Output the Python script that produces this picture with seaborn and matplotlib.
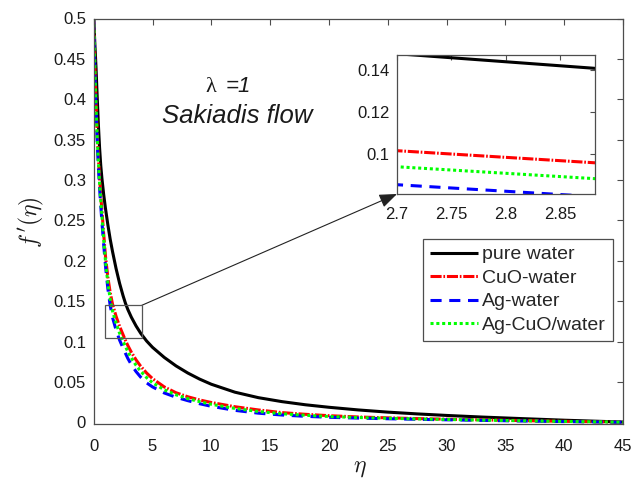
import matplotlib
matplotlib.use("Agg")
import matplotlib.pyplot as plt
from matplotlib.patches import Rectangle
import pandas as pd
import seaborn as sns

# similarity variable
eta = [0, 0.1, 0.2, 0.3, 0.4, 0.5, 0.6, 0.7, 0.85, 1.0, 1.2, 1.4, 1.6, 1.9,
       2.2, 2.5, 2.7, 2.9, 3.2, 3.6, 4.0, 4.5, 5, 6, 7, 8, 9, 10, 12, 14, 16,
       18, 20, 22.5, 25, 27.5, 30, 33, 36, 40, 45]

# velocity profiles f'(eta)
pure_water = [0.500, 0.468, 0.438, 0.402, 0.368, 0.340, 0.318, 0.302, 0.282,
              0.265, 0.245, 0.227, 0.2116, 0.1906, 0.1723, 0.1567, 0.1475,
              0.1399, 0.1303, 0.1195, 0.1103, 0.1008, 0.0930, 0.0805, 0.0700,
              0.0612, 0.0537, 0.0473, 0.0375, 0.0307, 0.0258, 0.0219, 0.0188,
              0.0155, 0.0128, 0.0106, 0.0087, 0.0067, 0.0050, 0.0028, 0.0005]
cuo_water = [0.500, 0.440, 0.395, 0.357, 0.327, 0.302, 0.281, 0.262, 0.233,
             0.206, 0.180, 0.161, 0.1465, 0.1315, 0.1190, 0.1085, 0.1016,
             0.0953, 0.0870, 0.0775, 0.0695, 0.0612, 0.0543, 0.0440, 0.0368,
             0.0318, 0.0279, 0.0247, 0.0195, 0.0155, 0.0122, 0.0101, 0.0084,
             0.0068, 0.0057, 0.0048, 0.0040, 0.0032, 0.0024, 0.0014, 0.0004]
ag_water = [0.500, 0.432, 0.385, 0.347, 0.316, 0.290, 0.268, 0.248, 0.220,
            0.194, 0.166, 0.145, 0.130, 0.1145, 0.1020, 0.0918, 0.0855,
            0.0793, 0.0715, 0.0630, 0.0560, 0.0490, 0.0440, 0.0365, 0.0312,
            0.0270, 0.0232, 0.0200, 0.0150, 0.0115, 0.0092, 0.0076, 0.0064,
            0.0054, 0.0046, 0.0039, 0.0033, 0.0026, 0.0019, 0.0011, 0.0003]
ag_cuo_water = [0.500, 0.436, 0.390, 0.352, 0.322, 0.296, 0.275, 0.255, 0.227,
                0.200, 0.173, 0.153, 0.138, 0.123, 0.1105, 0.1003, 0.0940,
                0.0878, 0.0798, 0.0708, 0.0633, 0.0555, 0.0492, 0.0404, 0.0342,
                0.0295, 0.0258, 0.0225, 0.0174, 0.0136, 0.0108, 0.0089, 0.0074,
                0.0061, 0.0052, 0.0044, 0.0037, 0.0029, 0.0022, 0.0013, 0.0004]

fluids = ["pure water", "CuO-water", "Ag-water", "Ag-CuO/water"]

x_ticks = [0, 5, 10, 15, 20, 25, 30, 35, 40, 45]
x_tick_labels = ["0", "5", "10", "15", "20", "25", "30", "35", "40", "45"]
y_ticks = [0, 0.05, 0.1, 0.15, 0.2, 0.25, 0.3, 0.35, 0.4, 0.45, 0.5]
y_tick_labels = ["0", "0.05", "0.1", "0.15", "0.2", "0.25", "0.3", "0.35",
                 "0.4", "0.45", "0.5"]
zoom_x_ticks = [2.7, 2.75, 2.8, 2.85]
zoom_x_tick_labels = ["2.7", "2.75", "2.8", "2.85"]
zoom_y_ticks = [0.1, 0.12, 0.14]
zoom_y_tick_labels = ["0.1", "0.12", "0.14"]

df = pd.concat([
    pd.DataFrame({"eta": eta, "fp": vals, "fluid": name})
    for name, vals in zip(fluids, [pure_water, cuo_water, ag_water, ag_cuo_water])
], ignore_index=True)

sns.set_style("white")
plt.rcParams["font.family"] = ["Liberation Sans", "DejaVu Sans"]
plt.rcParams["mathtext.fontset"] = "cm"
plt.rcParams["lines.scale_dashes"] = False

palette = {"pure water": "#000000", "CuO-water": "#ff0000",
           "Ag-water": "#0000ff", "Ag-CuO/water": "#00ff00"}
dashes = {"pure water": "", "CuO-water": (8, 1.3, 1.2, 1.3),
          "Ag-water": (8, 5.5), "Ag-CuO/water": (2.2, 2.0)}

EDGE = "#4d4d4d"
W, H = 633, 482
fig = plt.figure(figsize=(W / 100, H / 100), dpi=100)
fig.patch.set_facecolor("white")


def px_box(left, top, right, bottom):
    return [left / W, 1 - bottom / H, (right - left) / W, (bottom - top) / H]


ax = fig.add_axes(px_box(93.7, 18.5, 623, 424))


def draw_curves(target):
    sns.lineplot(data=df, x="eta", y="fp", hue="fluid", style="fluid",
                 hue_order=fluids, style_order=fluids, palette=palette,
                 dashes=dashes, estimator=None, sort=False, linewidth=2.2,
                 legend=False, ax=target)
    for line in target.get_lines():
        line.set_dash_capstyle("butt")
        line.set_solid_capstyle("butt")


draw_curves(ax)
ax.set_xlim(0, 45)
ax.set_ylim(-0.0019, 0.5)
ax.set_xticks(x_ticks, x_tick_labels)
ax.set_yticks(y_ticks, y_tick_labels)
ax.set_xlabel("")
ax.set_ylabel("")
ax.tick_params(direction="in", top=True, right=True, length=4, width=0.8,
               color=EDGE, labelsize=12, labelcolor="#1a1a1a")
ax.tick_params(axis="x", pad=10.5)
ax.tick_params(axis="y", pad=5.5)
for sp in ax.spines.values():
    sp.set_color(EDGE)
    sp.set_linewidth(0.9)

leg = ax.legend(handles=ax.get_lines()[:4], labels=fluids, loc="upper left",
                bbox_to_anchor=(423 / W, 1 - 239 / H),
                bbox_transform=fig.transFigure, fontsize=14, frameon=True,
                fancybox=False, framealpha=1, edgecolor=EDGE,
                handlelength=2.5, handletextpad=0.2, labelspacing=0.3,
                borderpad=0.35, borderaxespad=0)
leg.get_frame().set_linewidth(0.9)

# zoom window on the main axes
ax.add_patch(Rectangle((0.96, 0.104), 4.09 - 0.96, 0.145 - 0.104, fill=False,
                       ec="#555555", lw=0.9, zorder=5))

axin = fig.add_axes(px_box(397, 55, 595, 194))
draw_curves(axin)
axin.set_xlim(2.7, 2.882)
axin.set_ylim(0.0811, 0.1469)
axin.set_xticks(zoom_x_ticks, zoom_x_tick_labels)
axin.set_yticks(zoom_y_ticks, zoom_y_tick_labels)
axin.set_xlabel("")
axin.set_ylabel("")
axin.tick_params(direction="in", top=True, right=True, length=3.5, width=0.8,
                 color=EDGE, labelsize=12, labelcolor="#1a1a1a")
axin.tick_params(axis="x", pad=9.5)
axin.tick_params(axis="y", pad=5.5)
for sp in axin.spines.values():
    sp.set_color(EDGE)
    sp.set_linewidth(0.9)

ax.annotate("", xy=(0, 0), xycoords=axin.transAxes, xytext=(4.09, 0.145),
            textcoords="data", annotation_clip=False,
            arrowprops=dict(arrowstyle="-|>,head_length=0.9,head_width=0.35",
                            color="#222222", lw=0.8, shrinkA=0, shrinkB=0,
                            mutation_scale=12))

fig.text(205 / W, 1 - 91.7 / H, "λ", family="Liberation Serif", fontsize=16,
         va="baseline", ha="left", color="#1a1a1a")
fig.text(226 / W, 1 - 91.7 / H, "=1", style="italic", fontsize=16,
         va="baseline", ha="left", color="#1a1a1a")
fig.text(162 / W, 1 - 123.3 / H, "Sakiadis flow", style="italic",
         fontsize=18.5, va="baseline", ha="left", color="#1a1a1a")

fig.text(31 / W, 1 - 222 / H, r"$f\,'(\eta)$", rotation=90, ha="center",
         va="center", fontsize=17, color="#1a1a1a")
fig.text(360 / W, 1 - 468 / H, r"$\eta$", ha="center", va="center",
         fontsize=17, color="#1a1a1a")

fig.savefig("out.png", dpi=100)
